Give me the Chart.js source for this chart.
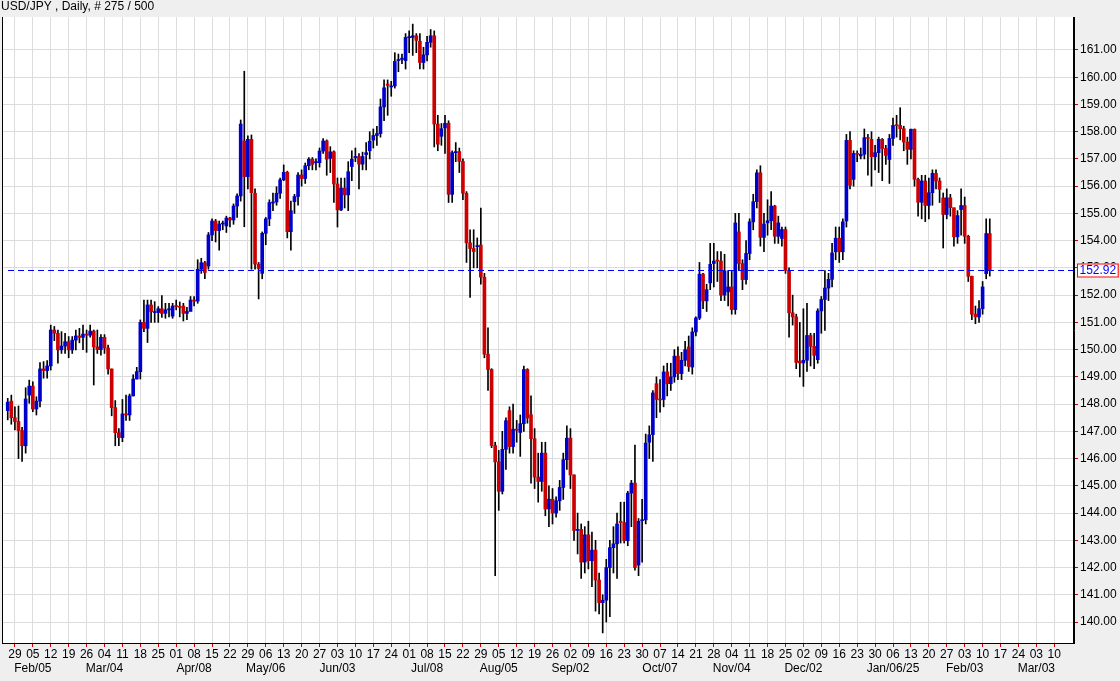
<!DOCTYPE html>
<html><head><meta charset="utf-8">
<script src="https://cdn.jsdelivr.net/npm/chart.js@4.4.1/dist/chart.umd.min.js"></script>
<style>html,body{margin:0;padding:0;background:#efefef}#wrap{width:1120px;height:681px}</style>
</head><body><div id="wrap"><canvas id="c" width="1120" height="681"></canvas></div>
<script>
const chartTitle = "USD/JPY , Daily, # 275 / 500";
const weekLabels = ["29","05","12","19","26","04","11","18","25","01","08","15","22","29","06","13","20","27","03","10","17","24","01","08","15","22","29","05","12","19","26","02","09","16","23","30","07","14","21","28","04","11","18","25","02","09","16","23","30","06","13","20","27","03","10","17","24","03","10"];
const monthLabels = ["","Feb/05","","","","Mar/04","","","","","Apr/08","","","","May/06","","","","Jun/03","","","","","Jul/08","","","","Aug/05","","","","Sep/02","","","","","Oct/07","","","","Nov/04","","","","Dec/02","","","","","Jan/06/25","","","","Feb/03","","","","Mar/03",""];
const openP = [147.76,148.11,147.50,147.36,147.03,146.47,148.33,148.66,147.82,148.11,149.29,149.23,149.40,150.72,150.60,149.99,150.13,150.29,149.99,150.35,150.50,150.45,150.57,150.53,150.68,150.10,150.00,150.45,150.06,149.29,147.87,146.95,146.77,147.64,147.60,148.30,148.92,149.19,151.00,150.78,151.64,151.36,151.36,151.50,151.33,151.46,
151.23,151.60,151.58,151.60,151.33,151.40,151.82,151.78,152.95,153.19,153.07,154.21,154.72,154.37,154.61,154.54,154.83,154.76,155.27,155.64,157.66,156.35,157.72,155.74,153.14,152.80,154.27,154.80,155.38,155.42,155.74,156.23,156.51,154.33,155.43,155.62,156.41,156.28,156.75,156.99,156.86,156.86,157.29,157.66,157.02,157.26,156.08,155.13,155.93,155.68,
156.72,157.05,157.09,156.81,157.16,157.30,157.69,157.86,157.93,158.91,159.75,159.64,159.68,160.61,160.65,160.61,161.45,161.46,161.52,161.32,160.54,160.82,161.28,161.52,158.28,157.83,158.14,158.31,155.70,157.23,157.27,156.91,155.74,153.92,153.71,153.78,153.84,152.66,149.83,149.27,146.48,145.88,144.80,146.34,147.76,146.44,147.08,
146.96,147.28,149.27,147.61,146.73,145.32,145.16,146.20,144.15,144.51,144.00,144.45,144.94,145.96,146.75,145.40,143.36,143.40,142.20,143.20,142.25,142.64,141.54,140.71,140.80,142.00,142.73,142.87,143.70,143.65,142.99,144.73,145.10,142.09,143.72,143.75,146.60,146.88,148.75,148.17,148.17,149.18,148.75,149.00,149.76,149.12,149.61,
150.10,149.36,150.65,151.16,152.77,151.79,152.45,153.16,153.28,153.25,152.00,152.12,152.30,151.47,154.32,153.16,152.57,153.53,154.69,155.43,156.49,154.12,154.65,154.73,155.27,154.16,154.08,154.41,152.91,151.35,151.20,149.58,149.51,149.61,150.52,150.12,149.63,151.42,151.84,152.26,152.58,153.59,154.09,153.59,
154.72,157.68,156.25,157.20,157.11,157.17,157.78,157.72,157.08,157.23,157.72,157.38,156.98,157.75,158.23,158.23,158.11,157.62,157.35,158.09,156.25,155.41,156.19,155.29,155.76,156.47,156.19,155.57,154.96,155.57,155.21,154.14,155.14,155.29,154.16,152.69,151.30,151.20,151.50,152.79,154.26];
const highP = [148.21,148.33,147.90,147.93,147.15,148.60,148.88,148.82,148.27,149.52,149.56,149.60,150.90,150.85,150.72,150.66,150.60,150.48,150.48,150.72,150.78,150.90,150.72,150.90,150.72,150.72,150.55,150.55,150.17,149.29,148.13,147.10,148.17,148.33,148.37,149.08,149.35,151.09,151.82,151.82,151.82,151.76,151.58,151.98,151.70,151.70,
151.70,151.82,151.75,151.70,151.55,151.95,151.95,153.30,153.35,153.24,154.30,154.80,154.78,154.72,154.72,154.90,154.86,155.35,155.72,158.43,160.22,157.85,157.88,155.90,153.20,154.32,154.85,155.50,155.75,155.98,156.30,156.78,156.55,155.45,155.70,156.50,156.60,156.85,157.05,157.05,157.00,157.40,157.75,157.70,157.45,157.30,156.30,156.30,156.30,156.90,
157.30,157.40,157.20,157.25,157.60,158.00,158.10,158.20,159.20,159.90,159.90,159.85,160.90,160.85,160.85,161.60,161.70,161.95,161.60,161.60,161.10,161.50,161.75,161.70,158.60,158.30,158.60,158.40,157.30,157.60,157.40,157.00,155.80,154.40,154.40,154.10,155.20,152.80,150.80,149.30,146.60,146.30,147.00,147.50,147.90,148.00,147.40,
147.60,149.40,149.30,148.30,147.10,146.20,146.60,146.60,145.00,144.90,144.60,145.20,146.20,147.20,147.10,145.40,144.00,143.60,143.50,143.70,143.30,143.00,141.80,141.00,142.30,143.00,143.50,144.00,144.40,144.40,144.80,145.20,146.50,143.80,144.50,146.90,147.20,148.50,149.00,148.90,149.40,149.50,149.50,150.00,150.10,149.90,150.30,
150.50,150.80,151.20,153.20,152.80,152.40,153.90,153.90,153.60,153.60,153.50,152.90,152.90,155.00,155.00,153.30,154.00,154.80,155.70,156.60,156.75,155.00,155.50,155.80,155.30,154.90,154.50,154.50,153.00,152.00,151.30,151.00,151.50,151.70,150.60,150.60,151.50,151.95,152.90,152.80,153.90,154.50,154.50,154.80,
157.90,158.00,157.30,157.30,157.40,158.10,157.90,158.00,157.50,157.80,157.75,157.50,157.90,158.50,158.60,158.88,158.20,157.80,158.10,158.10,156.30,156.40,156.40,156.30,156.60,156.60,156.30,155.75,155.90,155.70,155.20,155.10,155.90,155.60,154.20,152.70,151.60,151.80,152.50,154.80,154.80];
const lowP = [147.42,147.26,147.05,146.00,145.90,146.20,148.03,147.72,147.60,147.90,148.95,148.95,149.25,150.33,149.50,149.86,149.86,149.70,149.86,149.99,150.25,150.00,149.90,150.46,148.70,149.86,149.80,149.86,149.10,147.57,146.47,146.47,146.62,147.40,147.40,148.30,148.92,148.92,150.66,150.26,151.00,151.00,151.00,151.18,151.15,151.20,
151.15,151.46,151.20,151.05,151.10,151.50,151.60,151.70,152.80,152.60,152.95,154.00,153.95,153.65,154.40,154.30,154.50,154.60,154.85,155.45,154.51,155.90,152.95,152.95,151.86,152.60,153.85,154.55,155.10,155.30,155.55,156.20,154.10,153.65,155.00,155.30,156.00,156.10,156.60,156.60,156.60,156.70,157.20,156.40,156.50,155.40,154.50,155.10,155.20,155.10,
156.20,156.90,155.90,156.60,156.60,157.00,157.40,157.50,157.80,158.40,158.60,159.30,159.60,160.20,160.50,160.30,160.90,160.80,160.90,160.30,160.30,160.60,161.10,157.44,157.30,157.50,157.20,155.40,155.40,156.90,156.50,155.50,153.20,151.92,153.00,153.00,152.40,149.70,148.50,146.40,141.70,144.10,144.70,145.60,146.20,146.20,146.60,
146.08,147.00,147.30,145.10,144.90,144.40,144.80,143.90,143.50,143.60,143.85,144.10,144.50,145.60,144.90,143.00,142.50,141.60,141.80,141.95,141.30,140.40,140.30,139.60,140.00,140.20,141.80,141.60,142.90,142.90,142.80,143.50,141.90,141.70,142.20,143.60,146.00,145.90,147.50,147.70,147.90,148.30,148.50,148.80,148.90,148.90,149.40,
149.20,149.10,150.50,151.10,151.50,151.40,152.20,152.30,152.50,151.80,151.80,151.60,151.30,151.30,152.90,152.20,152.40,153.30,154.40,155.20,153.80,153.60,154.20,154.40,153.90,153.90,153.80,152.80,150.46,150.90,149.30,149.00,148.65,149.20,149.40,149.30,149.50,150.60,150.70,151.80,152.30,153.30,153.20,153.30,
154.50,155.90,156.00,156.90,157.00,157.00,156.40,156.00,156.60,156.50,156.20,156.80,156.10,157.50,157.80,157.70,157.30,156.80,157.00,156.00,154.90,154.80,154.70,154.80,155.30,155.90,155.40,153.73,154.80,154.90,153.80,153.90,154.20,153.90,152.50,151.10,150.95,151.00,151.30,152.60,152.70];
const closeP = [148.07,147.50,147.36,147.03,146.47,148.19,148.66,147.82,148.11,149.29,149.23,149.40,150.72,150.60,149.99,150.13,150.29,149.99,150.35,150.50,150.45,150.57,150.53,150.68,150.10,150.00,150.45,150.06,149.29,147.87,146.95,146.77,147.64,147.60,148.30,148.92,149.19,151.00,150.78,151.64,151.39,151.39,151.50,151.33,151.46,151.50,
151.60,151.58,151.55,151.33,151.40,151.82,151.78,152.95,153.19,152.83,154.21,154.72,154.37,154.61,154.64,154.83,154.76,155.27,155.64,158.28,156.35,157.72,155.76,153.14,152.98,154.27,154.80,155.40,155.42,155.74,156.23,156.51,154.33,155.10,155.62,156.41,156.28,156.75,156.99,156.80,156.90,157.29,157.66,156.99,157.26,156.08,155.13,155.93,155.68,156.53,
156.99,157.09,156.81,157.09,157.23,157.65,157.86,157.93,158.91,159.61,159.70,159.68,160.58,160.65,160.70,161.46,161.49,161.52,161.35,160.54,160.82,161.28,161.52,158.28,157.54,158.11,158.31,155.70,157.23,157.27,156.91,155.74,153.92,153.71,153.60,153.81,152.66,149.83,149.27,146.48,145.88,144.80,146.34,147.39,146.44,147.08,147.04,
147.28,149.27,147.49,146.73,145.32,145.16,146.20,144.15,144.51,144.00,144.45,144.94,145.96,146.75,145.40,143.36,143.40,142.20,143.20,142.25,142.64,141.54,140.71,140.80,142.00,142.73,142.87,143.60,143.65,142.99,144.73,145.10,142.00,143.70,143.75,146.57,146.87,148.41,148.17,148.15,149.18,148.75,149.00,149.76,149.12,149.61,150.00,
149.38,150.65,151.16,152.77,151.79,152.20,153.13,153.25,153.25,152.00,152.89,152.30,151.47,154.65,153.16,152.57,153.53,154.69,155.43,156.49,154.12,154.61,154.73,155.27,154.16,154.65,154.41,152.91,151.35,151.20,149.53,149.51,149.61,150.52,150.12,149.79,151.42,151.84,152.26,152.58,153.55,154.09,153.59,154.69,
157.68,156.03,157.20,157.17,157.17,157.78,157.75,157.08,157.23,157.72,157.38,157.13,157.75,158.23,158.22,158.11,157.62,157.35,158.09,156.25,155.41,156.19,155.29,155.76,156.47,156.19,155.88,154.96,155.57,155.21,154.14,154.92,155.29,154.16,152.69,151.30,151.20,151.50,152.30,154.26,152.92];

const BLUE = '#0000cc', RED = '#cc0000', FONT = '"Liberation Sans", Arial, sans-serif';
const n = Math.min(openP.length, highP.length, lowP.length, closeP.length);
const bodies = [], wicks = [], cols = [];
for (let i = 0; i < n; i++) {
  bodies.push({x: i, y: [openP[i], closeP[i]]});
  wicks.push({x: i, y: [lowP[i], highP[i]]});
  cols.push(closeP[i] >= openP[i] ? BLUE : RED);
}
const lastClose = closeP[n - 1];

const overlay = {
  id: 'overlay',
  beforeDraw(chart) {
    const {ctx, chartArea: a} = chart;
    ctx.save();
    ctx.fillStyle = '#efefef'; ctx.fillRect(0, 0, chart.width, chart.height);
    ctx.fillStyle = '#fff'; ctx.fillRect(a.left, a.top, a.right - a.left, a.bottom - a.top);
    ctx.restore();
  },
  afterDatasetsDraw(chart) {
    const {ctx, chartArea: a, scales: {y}} = chart;
    ctx.save();
    const py = Math.round(y.getPixelForValue(lastClose)) + 0.5;
    ctx.strokeStyle = '#0000ff'; ctx.lineWidth = 1; ctx.setLineDash([6, 4]);
    ctx.beginPath(); ctx.moveTo(a.left + 6, py); ctx.lineTo(a.right, py); ctx.stroke();
    ctx.setLineDash([]);
    ctx.strokeStyle = '#000';
    ctx.beginPath(); ctx.moveTo(a.left + 0.5, a.top); ctx.lineTo(a.left + 0.5, a.bottom);
    ctx.moveTo(a.right - 0.5, a.top); ctx.lineTo(a.right - 0.5, a.bottom); ctx.stroke();
    ctx.font = '12px ' + FONT;
    const t = lastClose.toFixed(2);
    const w = ctx.measureText(t).width + 4;
    ctx.fillStyle = '#fff'; ctx.fillRect(a.right + 3, py - 7, w, 14);
    ctx.strokeStyle = '#ff0000'; ctx.strokeRect(a.right + 3.5, py - 6.5, w, 13);
    ctx.fillStyle = '#0000ff'; ctx.textBaseline = 'middle'; ctx.fillText(t, a.right + 5.5, py + 0.5);
    ctx.fillStyle = '#000'; ctx.font = '12px ' + FONT; ctx.textBaseline = 'top';
    ctx.fillText(chartTitle, 1, 1);
    ctx.restore();
  }
};

new Chart(document.getElementById('c'), {
  type: 'bar',
  data: {datasets: [
    {data: bodies, backgroundColor: cols, barThickness: 3, minBarLength: 1, grouped: false, order: 0},
    {data: wicks, backgroundColor: '#000', barThickness: 1, grouped: false, order: 1}
  ]},
  plugins: [overlay],
  options: {
    responsive: false, animation: false, devicePixelRatio: 1,
    layout: {padding: {top: 17, left: 2, right: 0, bottom: 0}},
    plugins: {legend: {display: false}, tooltip: {enabled: false}},
    scales: {
      x: {
        type: 'linear', min: -1.6, max: 297.5, offset: false,
        afterBuildTicks(s) { s.ticks = weekLabels.map((_, k) => ({value: 2 + 5 * k})); },
        afterFit(s) { s.height = 38; s.paddingLeft = 0; s.paddingRight = 0; },
        grid: {color: '#dcdcdc', drawTicks: true, tickLength: 4, tickColor: RED, offset: false},
        border: {color: '#000'},
        ticks: {
          autoSkip: false, maxRotation: 0, minRotation: 0, padding: 0,
          color: '#000', font: {size: 12, family: FONT},
          callback(v) { const k = Math.round((v - 2) / 5); return [weekLabels[k], monthLabels[k] || '']; }
        }
      },
      y: {
        position: 'right', min: 139.23, max: 162.21,
        afterFit(s) { s.width = 46; s.paddingTop = 0; s.paddingBottom = 0; },
        afterBuildTicks(s) { s.ticks = s.ticks.filter(t => t.value <= 161.5); },
        grid: {color: '#dcdcdc', tickLength: 4, tickColor: RED},
        border: {color: '#000'},
        ticks: {stepSize: 1, includeBounds: false, padding: 2, color: '#000',
          font: {size: 12, family: FONT},
          callback(v) { return v.toFixed(2); }}
      }
    }
  }
});
</script></body></html>
